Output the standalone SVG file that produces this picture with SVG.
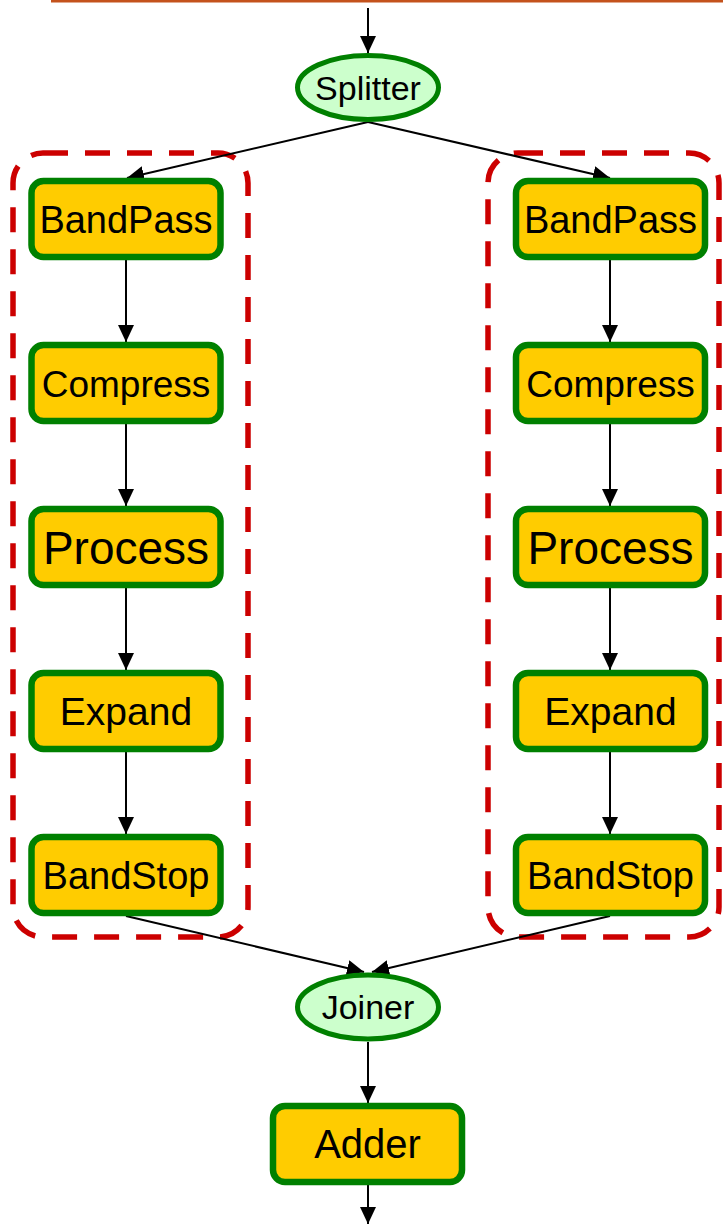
<svg xmlns="http://www.w3.org/2000/svg" width="723" height="1225" viewBox="0 0 723 1225">
  <style>
    .box { fill: #ffcc00; stroke: #008000; stroke-width: 6.5; }
    .oval { fill: #ccffcc; stroke: #008000; stroke-width: 5; }
    .grp { fill: none; stroke: #cc0000; stroke-width: 5.5; stroke-dasharray: 25 17; }
    .lbl { font-family: "Liberation Sans", Arial, sans-serif; fill: #000; text-anchor: middle; }
    .edge { stroke: #000; stroke-width: 2; fill: none; marker-end: url(#arrow); }
  </style>
  <defs>
    <marker id="arrow" markerUnits="userSpaceOnUse" markerWidth="17" markerHeight="16" refX="17" refY="8" orient="auto">
      <path d="M0,0 L17,8 L0,16 Z" fill="#000"/>
    </marker>
  </defs>
  <rect x="51" y="0" width="672" height="2.5" fill="#c4521c"/>

  <g id="group-left"><rect class="grp" x="13" y="153" width="235" height="784" rx="30"/></g>
  <g id="group-right"><rect class="grp" x="488" y="153" width="231" height="784" rx="30"/></g>

  <g id="connectors">
    <line class="edge" x1="368" y1="8" x2="368" y2="53"/>
    <line class="edge" x1="368" y1="122" x2="127" y2="178"/>
    <line class="edge" x1="368" y1="122" x2="610" y2="178"/>
    <line class="edge" x1="126" y1="260" x2="126" y2="342"/>
    <line class="edge" x1="126" y1="424" x2="126" y2="506"/>
    <line class="edge" x1="126" y1="588" x2="126" y2="670"/>
    <line class="edge" x1="126" y1="752" x2="126" y2="834"/>
    <line class="edge" x1="610" y1="260" x2="610" y2="342"/>
    <line class="edge" x1="610" y1="424" x2="610" y2="506"/>
    <line class="edge" x1="610" y1="588" x2="610" y2="670"/>
    <line class="edge" x1="610" y1="752" x2="610" y2="834"/>
    <line class="edge" x1="126" y1="916" x2="364" y2="972"/>
    <line class="edge" x1="610" y1="916" x2="372" y2="972"/>
    <line class="edge" x1="368" y1="1042" x2="368" y2="1103"/>
    <line class="edge" x1="368" y1="1185" x2="368" y2="1224"/>
  </g>

  <g id="splitter"><ellipse class="oval" cx="368" cy="87.5" rx="70.5" ry="32"/><text class="lbl" x="368" y="100" font-size="34">Splitter</text></g>

  <g id="bandpass-left"><rect class="box" x="31.5" y="181" width="189" height="76" rx="12"/><text class="lbl" x="126" y="232.7" font-size="38">BandPass</text></g>
  <g id="compress-left"><rect class="box" x="31.5" y="345" width="189" height="76" rx="12"/><text class="lbl" x="126" y="396.5" font-size="37">Compress</text></g>
  <g id="process-left"><rect class="box" x="31.5" y="509" width="189" height="76" rx="12"/><text class="lbl" x="126" y="563.5" font-size="46">Process</text></g>
  <g id="expand-left"><rect class="box" x="31.5" y="673" width="189" height="76" rx="12"/><text class="lbl" x="126" y="725" font-size="39">Expand</text></g>
  <g id="bandstop-left"><rect class="box" x="31.5" y="837" width="189" height="76" rx="12"/><text class="lbl" x="126" y="888.7" font-size="38">BandStop</text></g>

  <g id="bandpass-right"><rect class="box" x="516" y="181" width="189" height="76" rx="12"/><text class="lbl" x="610.5" y="232.7" font-size="38">BandPass</text></g>
  <g id="compress-right"><rect class="box" x="516" y="345" width="189" height="76" rx="12"/><text class="lbl" x="610.5" y="396.5" font-size="37">Compress</text></g>
  <g id="process-right"><rect class="box" x="516" y="509" width="189" height="76" rx="12"/><text class="lbl" x="610.5" y="563.5" font-size="46">Process</text></g>
  <g id="expand-right"><rect class="box" x="516" y="673" width="189" height="76" rx="12"/><text class="lbl" x="610.5" y="725" font-size="39">Expand</text></g>
  <g id="bandstop-right"><rect class="box" x="516" y="837" width="189" height="76" rx="12"/><text class="lbl" x="610.5" y="888.7" font-size="38">BandStop</text></g>

  <g id="joiner"><ellipse class="oval" cx="368" cy="1007" rx="70.5" ry="32"/><text class="lbl" x="368" y="1019" font-size="34">Joiner</text></g>
  <g id="adder"><rect class="box" x="273" y="1106" width="189" height="76" rx="12"/><text class="lbl" x="367.5" y="1158.4" font-size="40">Adder</text></g>
</svg>
